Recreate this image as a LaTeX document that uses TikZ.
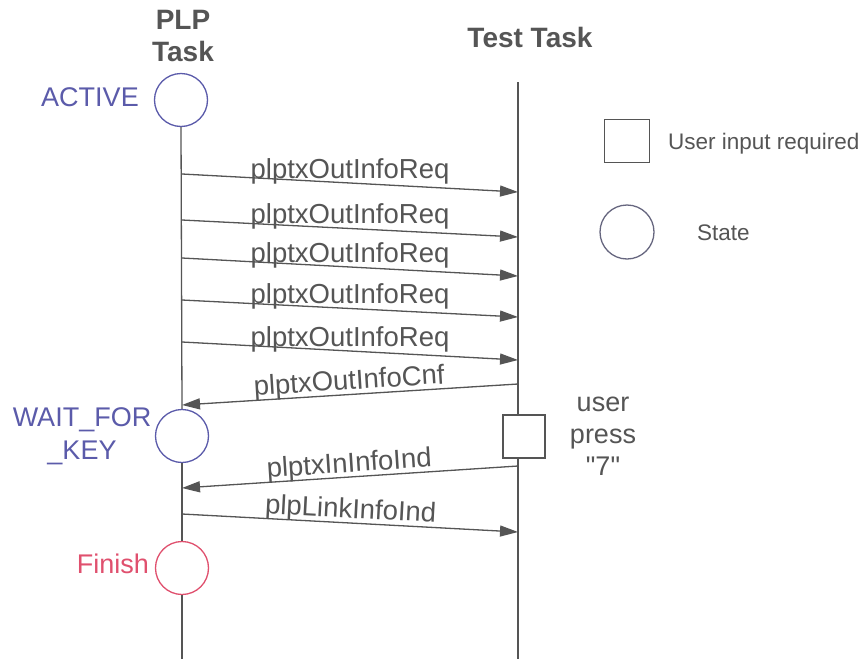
\documentclass[tikz,border=0pt]{standalone}
\usepackage{fontspec}
\setmainfont[Ligatures=TeXOff]{Liberation Sans}
\usetikzlibrary{arrows.meta}
\definecolor{ln}{HTML}{555555}
\definecolor{st}{HTML}{5B5BAA}
\definecolor{fin}{HTML}{E0506E}
\definecolor{lg}{HTML}{66667F}
\begin{document}
\begin{tikzpicture}[x=1pt,y=-1pt,
  msg/.style={draw=ln, line width=1.3pt, -{Triangle[length=18pt,width=11pt]}, fill=ln},
  lbl/.style={font=\fontsize{27.5}{30}\selectfont, text=ln, inner sep=0pt, anchor=base, yshift=5pt},
  slbl/.style={lbl, sloped},
  state/.style={circle, draw, line width=1.3pt, minimum size=53pt, inner sep=0pt},
  head/.style={font=\bfseries\fontsize{28}{32}\selectfont, text=ln, align=center, inner sep=0pt},
  txt/.style={font=\fontsize{27}{33}\selectfont, align=center, inner sep=0pt},
  legtxt/.style={font=\fontsize{22.5}{26}\selectfont, text=ln, inner sep=0pt, anchor=base west},
  life/.style={draw=ln, line width=1.3pt},
  ubox/.style={draw=ln, line width=1.3pt, fill=white, minimum width=42pt, minimum height=43pt, inner sep=0pt}
]
\useasboundingbox (0,0) rectangle (868,659);
\fill[white] (0,0) rectangle (868,659);

% headers
\node[head] (plp) at (183,36) {PLP\\Task};
\node[head] (test) at (530,37) {Test Task};

% states on PLP lifeline
\node[state, draw=st] (active) at (181,100) {};
\node[txt, text=st] (activel) at (90,97) {ACTIVE};
\node[state, draw=st] (wait) at (182,436) {};
\node[txt, text=st] (waitl) at (82,436) {WAIT\_FOR\\\_KEY};
\node[state, draw=fin] (finish) at (182,568) {};
\node[txt, text=fin] (finishl) at (113,564) {Finish};

% user input box on test lifeline
\node[ubox] (ubox) at (524,436.5) {};
\node[txt, text=ln, font=\fontsize{27}{32}\selectfont] (press) at (603,436) {user\\press\\"7"};

% lifelines
\coordinate (pbot) at (182,659);
\coordinate (ttop) at (518,82);
\coordinate (tbot) at (518,659);
\draw[life] (active.south) -- (wait.north);
\draw[life] (wait.south) -- (finish.north);
\draw[life] (finish.south) -- (pbot);
\draw[life] (ttop) -- (ttop |- ubox.north);
\draw[life] (ttop |- ubox.south) -- (tbot);

% message end points
\coordinate (a1) at (182,174); \coordinate (b1) at (518,192);
\coordinate (a2) at (182,220); \coordinate (b2) at (518,237);
\coordinate (a3) at (182,258); \coordinate (b3) at (518,276);
\coordinate (a4) at (182,300); \coordinate (b4) at (518,317);
\coordinate (a5) at (182,342); \coordinate (b5) at (518,360);
\coordinate (c1) at (518,384); \coordinate (d1) at (182,405);
\coordinate (c2) at (518,466); \coordinate (d2) at (182,488);
\coordinate (a6) at (182,514); \coordinate (b6) at (518,532);

\draw[msg] (a1) -- node[lbl] {plptxOutInfoReq} (b1);
\draw[msg] (a2) -- node[lbl] {plptxOutInfoReq} (b2);
\draw[msg] (a3) -- node[lbl] {plptxOutInfoReq} (b3);
\draw[msg] (a4) -- node[lbl] {plptxOutInfoReq} (b4);
\draw[msg] (a5) -- node[lbl] {plptxOutInfoReq} (b5);
\draw[msg] (c1) -- node[slbl] {plptxOutInfoCnf} (d1);
\draw[msg] (c2) -- node[slbl] {plptxInInfoInd} (d2);
\draw[msg] (a6) -- node[slbl] {plpLinkInfoInd} (b6);

% legend
\node[ubox, minimum width=45pt] (legbox) at (627,141) {};
\node[legtxt] (legboxl) at (668,149) {User input required};
\node[state, draw=lg, minimum size=54pt] (legcirc) at (627,232) {};
\node[legtxt] (legcircl) at (697,240) {State};
\end{tikzpicture}
\end{document}
